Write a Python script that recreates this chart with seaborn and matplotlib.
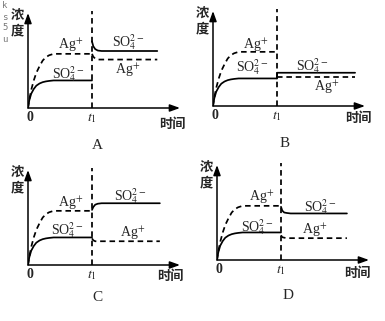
import matplotlib
matplotlib.use("Agg")
import matplotlib.pyplot as plt
import seaborn as sns
import pandas as pd

# ---------------- data ----------------
panels = ["A", "B", "C", "D"]
t1 = 1.0
# rise before t1 (shared shape)
rise_x = [0, 0.02, 0.05, 0.09, 0.13, 0.18, 0.23, 0.28, 0.33, 0.40, 1.0]
ag_rise = [0, 0.09, 0.19, 0.29, 0.37, 0.44, 0.50, 0.535, 0.555, 0.57, 0.57]
so4_rise = [0, 0.08, 0.15, 0.20, 0.235, 0.258, 0.272, 0.280, 0.285, 0.29, 0.29]

# after t1 per panel: x points and y values
after_x = {
    "A": [1.0, 1.02, 1.05, 1.09, 1.15, 2.02],
    "B": [1.0, 1.001, 2.22],
    "C": [1.0, 1.02, 1.05, 1.09, 1.15, 2.06],
    "D": [1.0, 1.02, 1.05, 1.09, 1.15, 2.03],
}
so4_after = {
    "A": [0.70, 0.65, 0.62, 0.605, 0.60, 0.60],
    "B": [0.29, 0.35, 0.35],
    "C": [0.58, 0.61, 0.635, 0.645, 0.65, 0.65],
    "D": [0.56, 0.52, 0.50, 0.495, 0.49, 0.49],
}
ag_after = {
    "A": [0.57, 0.54, 0.52, 0.51, 0.51, 0.51],
    "B": [0.31, 0.31, 0.31],
    "C": [0.28, 0.26, 0.25, 0.25, 0.25, 0.25],
    "D": [0.26, 0.24, 0.235, 0.23, 0.23, 0.23],
}
# label positions (data coords)
label_pos = {
    "A": {"ag": (0.66, 0.66), "so4": (0.63, 0.36), "so4b": (1.56, 0.69), "agb": (1.56, 0.40)},
    "B": {"ag": (0.66, 0.64), "so4": (0.61, 0.41), "so4b": (1.55, 0.42), "agb": (1.78, 0.20)},
    "C": {"ag": (0.66, 0.65), "so4": (0.61, 0.37), "so4b": (1.59, 0.73), "agb": (1.64, 0.33)},
    "D": {"ag": (0.70, 0.66), "so4": (0.63, 0.35), "so4b": (1.61, 0.56), "agb": (1.53, 0.31)},
}
line_end = {"A": 2.02, "B": 2.22, "C": 2.06, "D": 2.03}

# axes origins in pixels (x, y from top)
origins = {"A": (28, 108), "B": (213, 106), "C": (28, 265), "D": (217, 260)}
letter_pos = {"A": (1.08, -0.39), "B": (1.12, -0.39), "C": (1.09, -0.34), "D": (1.11, -0.37)}
time_pos = {"A": (2.25, -0.17), "B": (2.27, -0.13), "C": (2.22, -0.12), "D": (2.20, -0.14)}

# ---------------- style ----------------
sns.set_theme(style="white")
plt.rcParams["font.family"] = ["Liberation Serif", "Noto Sans CJK SC", "DejaVu Sans"]
plt.rcParams["mathtext.fontset"] = "stix"

W, H = 385, 321
fig = plt.figure(figsize=(W / 100, H / 100), dpi=100)
fig.patch.set_facecolor("white")

axw, axh = 152, 95
xmax = axw / 64.0
lw = 1.25
dash = (0, (3.2, 2.2))
cjk = ["Noto Sans CJK SC", "DejaVu Sans"]

for p in panels:
    ox, oy = origins[p]
    ax = fig.add_axes([ox / W, (H - oy) / H, axw / W, axh / H])
    ax.set_xlim(0, xmax)
    ax.set_ylim(0, 1)
    for s in ax.spines.values():
        s.set_visible(False)
    ax.set_xticks([])
    ax.set_yticks([])
    ax.patch.set_alpha(0)

    # axes arrows
    ax.annotate("", xy=(1, 0), xycoords="axes fraction", xytext=(0, 0),
                arrowprops=dict(arrowstyle="-|>,head_length=0.5,head_width=0.18",
                                color="black", lw=1.1, shrinkA=0, shrinkB=0))
    ax.annotate("", xy=(0, 1), xycoords="axes fraction", xytext=(0, 0),
                arrowprops=dict(arrowstyle="-|>,head_length=0.5,head_width=0.18",
                                color="black", lw=1.1, shrinkA=0, shrinkB=0))

    # before t1
    df_ag = pd.DataFrame({"x": rise_x, "y": ag_rise})
    df_so = pd.DataFrame({"x": rise_x, "y": so4_rise})
    sns.lineplot(data=df_ag, x="x", y="y", ax=ax, color="black", lw=lw,
                 linestyle=dash, sort=False)
    sns.lineplot(data=df_so, x="x", y="y", ax=ax, color="black", lw=lw, sort=False)

    # after t1
    xs = list(after_x[p])
    xs[-1] = line_end[p]
    sns.lineplot(data=pd.DataFrame({"x": xs, "y": ag_after[p]}), x="x", y="y",
                 ax=ax, color="black", lw=lw, linestyle=dash, sort=False)
    sns.lineplot(data=pd.DataFrame({"x": xs, "y": so4_after[p]}), x="x", y="y",
                 ax=ax, color="black", lw=lw, sort=False)

    # t1 dashed vertical
    ax.plot([t1, t1], [0, 1.02], color="black", lw=lw, linestyle=dash, clip_on=False)
    ax.set_xlabel("")
    ax.set_ylabel("")

    lp = label_pos[p]
    fs = 10
    ax.text(*lp["ag"], r"Ag$^{+}$", ha="center", va="center", fontsize=fs)
    ax.text(*lp["so4"], r"SO$_4^{2-}$", ha="center", va="center", fontsize=fs)
    ax.text(*lp["so4b"], r"SO$_4^{2-}$", ha="center", va="center", fontsize=fs)
    ax.text(*lp["agb"], r"Ag$^{+}$", ha="center", va="center", fontsize=fs)

    ax.text(-0.17, 0.98, "浓", ha="center", va="center", fontsize=9.5,
            family=cjk, fontweight="bold", clip_on=False)
    ax.text(-0.17, 0.82, "度", ha="center", va="center", fontsize=9.5,
            family=cjk, fontweight="bold", clip_on=False)
    ax.text(0.03, -0.10, "0", ha="center", va="center", fontsize=10, fontweight="bold")
    ax.text(t1, -0.11, r"$t_1$", ha="center", va="center", fontsize=10)
    ax.text(*time_pos[p], "时间", ha="center", va="center", fontsize=9.5,
            family=cjk, fontweight="bold")
    ax.text(*letter_pos[p], p, ha="center", va="center", fontsize=11)

# watermark
for i, ch in enumerate("ks5u"):
    fig.text(5 / W, 1 - (6 + i * 11) / H, ch, ha="center", va="center",
             fontsize=6.5, color="#777777", family=["DejaVu Sans Mono"])

fig.savefig("out.png", dpi=100, facecolor="white")
